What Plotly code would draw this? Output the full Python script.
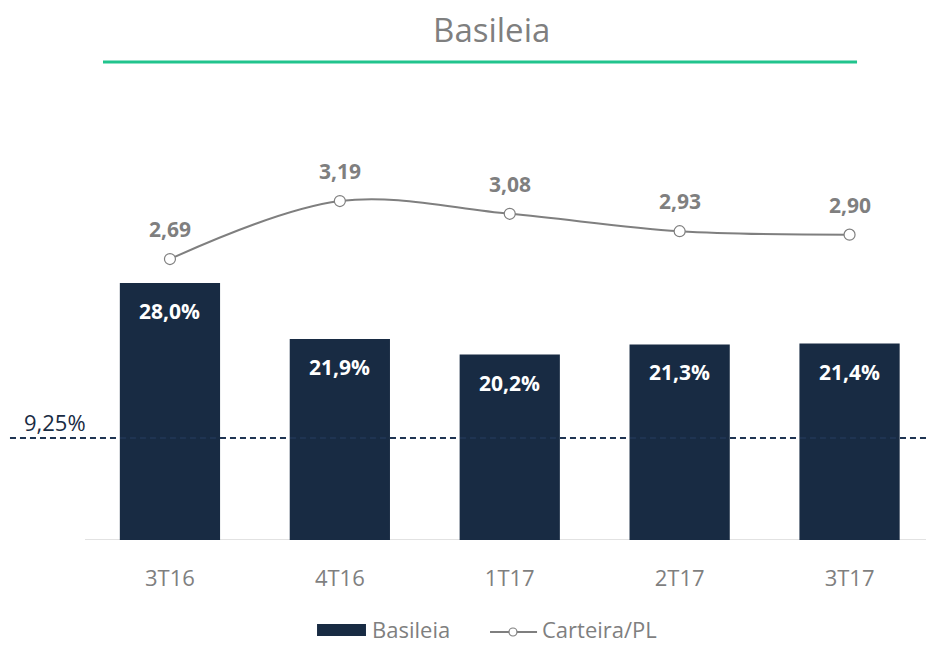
import plotly.graph_objects as go

categories = ["3T16", "4T16", "1T17", "2T17", "3T17"]
basileia = [28.0, 21.9, 20.2, 21.3, 21.4]
carteira_pl = [2.69, 3.19, 3.08, 2.93, 2.90]
ref_level = 9.25
series_names = ["Basileia", "Carteira/PL"]

def br(v, d, suffix=""):
    return f"{v:.{d}f}".replace(".", ",") + suffix

FONT = "Open Sans, Noto Sans, sans-serif"
NAVY = "#182b43"
GRAY = "#7f7f7f"

fig = go.Figure()
fig.add_trace(go.Bar(
    x=categories, y=basileia, name=series_names[0],
    marker=dict(color=NAVY, line=dict(width=0)),
    yaxis="y", showlegend=False,
))
fig.add_trace(go.Scatter(
    x=categories, y=carteira_pl, name=series_names[1],
    mode="lines+markers",
    line=dict(color=GRAY, width=2, shape="spline", smoothing=1.0),
    marker=dict(symbol="circle", size=11, color="white", line=dict(color=GRAY, width=1.2)),
    yaxis="y2", showlegend=False,
))
# invisible trace for the reference axis
fig.add_trace(go.Scatter(x=[categories[0]], y=[ref_level], yaxis="y3", mode="markers",
                         marker=dict(opacity=0), showlegend=False, hoverinfo="skip"))

annotations = []
for c, v in zip(categories, basileia):
    annotations.append(dict(x=c, y=v, xref="x", yref="y", text=br(v, 1, "%"), showarrow=False,
                            yanchor="middle", yshift=-28,
                            font=dict(family=FONT, size=21, color="white", weight="bold")))
for c, v in zip(categories, carteira_pl):
    annotations.append(dict(x=c, y=v, xref="x", yref="y2", text=br(v, 2), showarrow=False,
                            yanchor="middle", yshift=30,
                            font=dict(family=FONT, size=21, color=GRAY, weight="bold")))
annotations.append(dict(x=-0.0357, y=ref_level, xref="paper", yref="y3", text=br(ref_level, 2, "%"),
                        showarrow=False, yanchor="middle", xanchor="center", yshift=16,
                        font=dict(family=FONT, size=22, color=NAVY)))

# custom legend
annotations.append(dict(x=0.3389, y=-0.2023, xref="paper", yref="paper", text=series_names[0],
                        showarrow=False, xanchor="left", yanchor="middle",
                        font=dict(family=FONT, size=22, color=GRAY)))
annotations.append(dict(x=0.5410, y=-0.2023, xref="paper", yref="paper", text=series_names[1],
                        showarrow=False, xanchor="left", yanchor="middle",
                        font=dict(family=FONT, size=22, color=GRAY)))

shapes = [
    dict(type="line", xref="paper", yref="y3", x0=-0.0892, x1=1, y0=ref_level, y1=ref_level,
         line=dict(color="#1f3452", width=2, dash="6px,4px"), layer="above"),
    dict(type="line", xref="paper", yref="paper", x0=0.0214, x1=0.918, y0=1.0864, y1=1.0864,
         line=dict(color="#21c48d", width=3)),
    dict(type="line", xref="paper", yref="y", x0=0, x1=1, y0=0, y1=0,
         line=dict(color="#d9d9d9", width=1.5), layer="below"),
    # legend symbols
    dict(type="rect", xref="paper", yref="paper", x0=0.2759, x1=0.3341, y0=-0.2182, y1=-0.1909,
         line=dict(width=0), fillcolor=NAVY),
    dict(type="line", xref="paper", yref="paper", x0=0.4816, x1=0.5375, y0=-0.2091, y1=-0.2091,
         line=dict(color=GRAY, width=2)),
    dict(type="circle", xref="paper", yref="paper", xsizemode="pixel", ysizemode="pixel",
         xanchor=0.5089, yanchor=-0.2091, x0=-4, x1=4, y0=-4, y1=4,
         line=dict(color=GRAY, width=1.2), fillcolor="white"),
]

fig.update_layout(
    width=926, height=645,
    margin=dict(l=85, r=0, t=100, b=105),
    paper_bgcolor="white", plot_bgcolor="white",
    title=dict(text="Basileia", x=0.531, xanchor="center", y=1 - 30 / 645, yanchor="middle",
               font=dict(family=FONT, size=33, color=GRAY)),
    font=dict(family=FONT, color=GRAY),
    bargap=0.41,
    xaxis=dict(range=[-0.5, 4.45], showgrid=False, zeroline=False, showline=False,
               tickfont=dict(family=FONT, size=22, color=GRAY), ticklabelstandoff=23),
    yaxis=dict(range=[0, 47.93], visible=False, showgrid=False),
    yaxis2=dict(range=[0.268, 4.061], overlaying="y", visible=False, showgrid=False),
    yaxis3=dict(range=[0, 39.9], overlaying="y", visible=False, showgrid=False),
    annotations=annotations,
    shapes=shapes,
    showlegend=False,
)

fig.write_html("out.html", config={"displayModeBar": False},
               post_script="document.body.style.margin='0';document.body.style.overflow='hidden';")
